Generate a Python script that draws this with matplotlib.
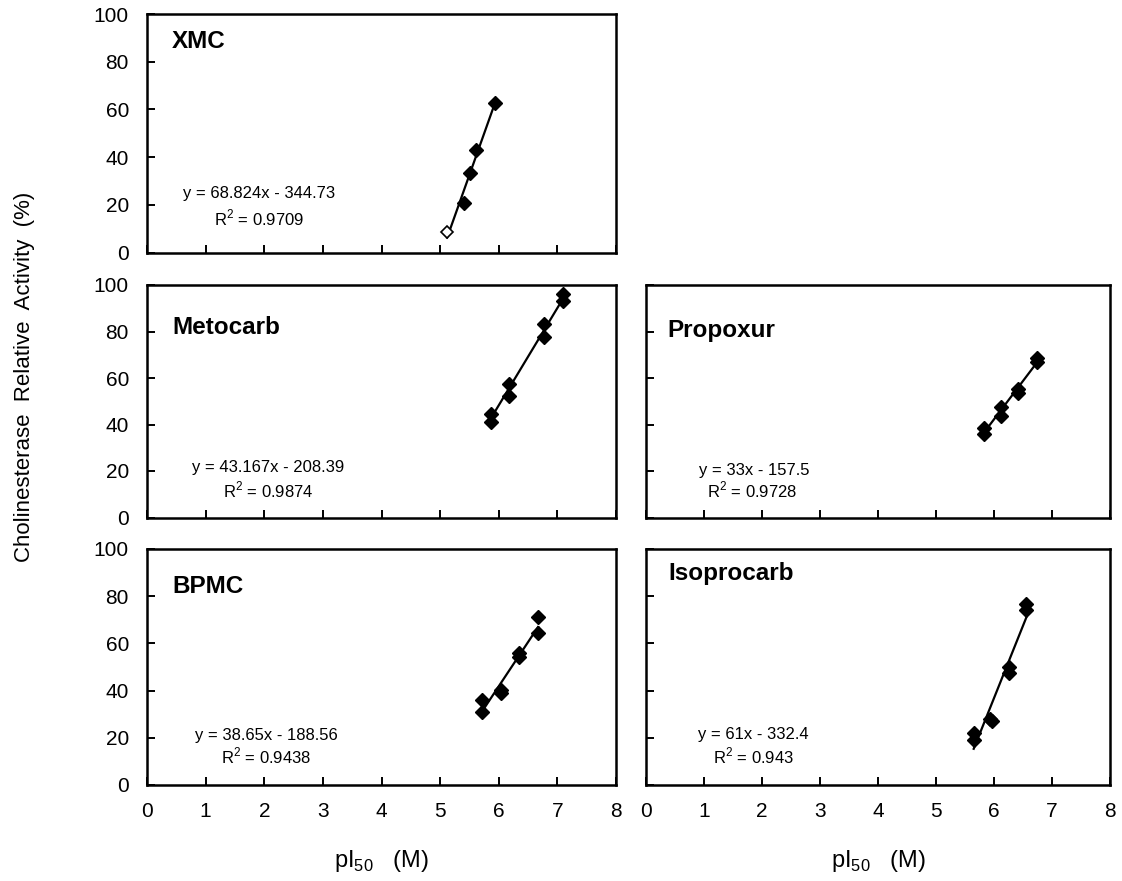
import numpy as np
import matplotlib
matplotlib.use("Agg")
import matplotlib.pyplot as plt

plt.rcParams['font.family'] = ['Liberation Sans', 'DejaVu Sans']

# data (pI50, relative activity %)
xmc_x = [5.12, 5.40, 5.51, 5.62, 5.93]
xmc_y = [8.8, 20.7, 33.3, 43.1, 62.7]

meto_x = [5.86, 5.86, 6.17, 6.17, 6.78, 6.78, 7.10, 7.10]
meto_y = [44.7, 41.1, 57.6, 52.1, 83.3, 77.6, 96.2, 93.3]

prop_x = [5.82, 5.82, 6.12, 6.12, 6.42, 6.42, 6.74, 6.74]
prop_y = [38.3, 36.1, 47.6, 43.7, 55.4, 53.6, 68.8, 66.9]

bpmc_x = [5.72, 5.72, 6.03, 6.03, 6.34, 6.34, 6.67, 6.67]
bpmc_y = [31.0, 36.0, 38.8, 40.2, 54.3, 55.8, 64.2, 71.3]

iso_x = [5.65, 5.65, 5.93, 5.96, 6.25, 6.25, 6.56, 6.56]
iso_y = [19.0, 22.1, 27.8, 27.1, 50.1, 47.3, 76.7, 74.1]

names = ['XMC', 'Metocarb', 'Propoxur', 'BPMC', 'Isoprocarb']
equations = ['y = 68.824x - 344.73', 'y = 43.167x - 208.39', 'y = 33x - 157.5',
             'y = 38.65x - 188.56', 'y = 61x - 332.4']
r2 = ['0.9709', '0.9874', '0.9728', '0.9438', '0.943']
xticks = [0, 1, 2, 3, 4, 5, 6, 7, 8]
yticks = [0, 20, 40, 60, 80, 100]

W, H = 1122, 881
fig = plt.figure(figsize=(W / 100, H / 100), dpi=100)


def box(x0, x1, ytop, ybot):
    return [x0 / W, 1 - ybot / H, (x1 - x0) / W, (ybot - ytop) / H]


ax_xmc = fig.add_axes(box(147, 616, 14, 252.7))
ax_meto = fig.add_axes(box(147, 616, 285, 517.5))
ax_prop = fig.add_axes(box(646, 1110, 285, 517.5))
ax_bpmc = fig.add_axes(box(147, 616, 549, 785))
ax_iso = fig.add_axes(box(646, 1110, 549, 785))

panels = [
    (ax_xmc, xmc_x, xmc_y, (0.43, 88.3), (1.91, 25.0), (1.91, 14.6)),
    (ax_meto, meto_x, meto_y, (0.44, 81.9), (2.07, 21.3), (2.07, 11.8)),
    (ax_prop, prop_x, prop_y, (0.36, 80.6), (1.86, 20.4), (1.82, 11.8)),
    (ax_bpmc, bpmc_x, bpmc_y, (0.44, 84.3), (2.03, 20.8), (2.03, 12.4)),
    (ax_iso, iso_x, iso_y, (0.38, 89.8), (1.85, 21.2), (1.85, 12.4)),
]

for i, (ax, x, y, tpos, epos, rpos) in enumerate(panels):
    x = np.array(x)
    y = np.array(y)
    k, b = np.polyfit(x, y, 1)
    xl = np.array([x.min(), x.max()])
    ax.plot(xl, k * xl + b, color='black', lw=1.6, zorder=2)
    if i == 0:
        # first XMC point is drawn open
        ax.plot(x[1:], y[1:], 'D', color='black', ms=7, zorder=3)
        ax.plot(x[:1], y[:1], 'D', mfc='white', mec='black', mew=1.2, ms=6, zorder=3)
    else:
        ax.plot(x, y, 'D', color='black', ms=7, zorder=3)

    ax.text(tpos[0], tpos[1], names[i], fontsize=17.5, fontweight='bold',
            ha='left', va='center')
    ax.text(epos[0], epos[1], equations[i], fontsize=12, ha='center', va='center')
    ax.text(rpos[0], rpos[1], r'R$^{\mathregular{2}}$ = ' + r2[i], fontsize=12,
            ha='center', va='center')

    ax.set_xlim(0, 8)
    ax.set_ylim(0, 100)
    ax.set_xticks(xticks)
    ax.set_yticks(yticks)
    ax.tick_params(direction='in', length=6, width=1.4, labelsize=15)
    ax.tick_params(axis='x', pad=12)
    ax.tick_params(axis='y', pad=13)
    for s in ax.spines.values():
        s.set_linewidth(1.8)
    if ax not in (ax_bpmc, ax_iso):
        ax.set_xticklabels([])
    if ax in (ax_prop, ax_iso):
        ax.set_yticklabels([])

ax_bpmc.set_xlabel(r'pI$_{\mathregular{50}}$   (M)', fontsize=17, labelpad=20)
ax_iso.set_xlabel(r'pI$_{\mathregular{50}}$   (M)', fontsize=17, labelpad=20)

fig.text(25 / W, 1 - 377 / H, 'Cholinesterase  Relative  Activity  (%)', rotation=90,
         fontsize=16, ha='center', va='center')

plt.savefig('out.png', dpi=100)
